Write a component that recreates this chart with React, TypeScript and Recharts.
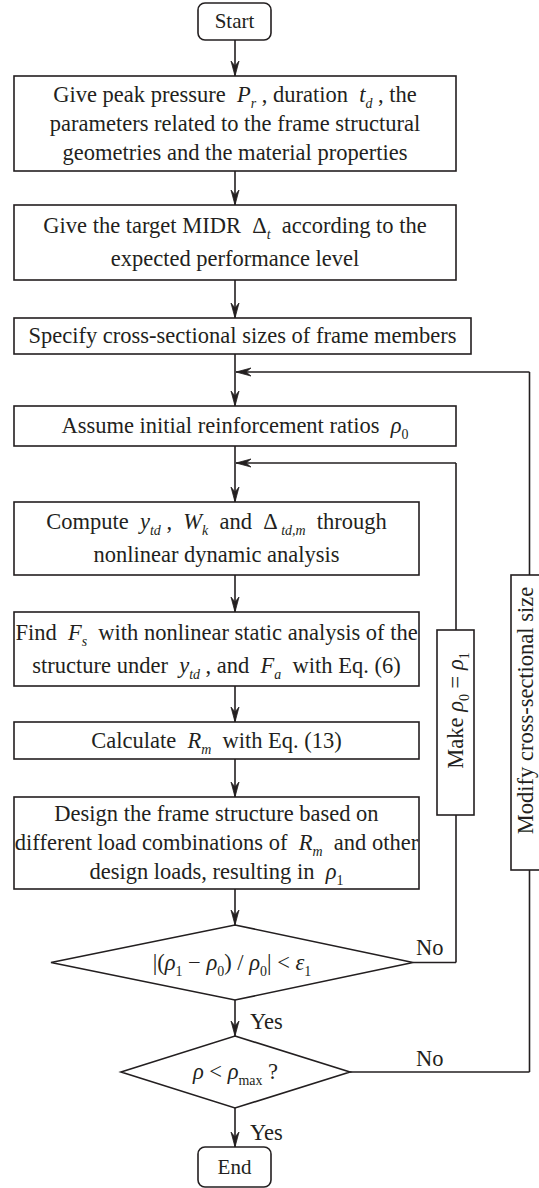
import React from 'react';
import { ComposedChart, XAxis, YAxis, Scatter, ReferenceLine } from 'recharts';

type Seg = { t: string; it?: boolean; sub?: boolean };
const T = (t: string): Seg => ({ t });
const I = (t: string): Seg => ({ t, it: true });
const S = (t: string, it = false): Seg => ({ t, sub: true, it });

// ---- texts ----
const terminalLabels: Seg[][] = [[T('Start')], [T('End')]];

const processLabels: Seg[][][] = [
  [
    [T('Give peak pressure  '), I('P'), S('r', true), T(' , duration  '), I('t'), S('d', true), T(' , the')],
    [T('parameters related to the frame structural')],
    [T('geometries and the material properties')],
  ],
  [
    [T('Give the target MIDR  Δ'), S('t', true), T('  according to the')],
    [T('expected performance level')],
  ],
  [[T('Specify cross-sectional sizes of frame members')]],
  [[T('Assume initial reinforcement ratios  '), I('ρ'), S('0')]],
  [
    [T('Compute  '), I('y'), S('td', true), T(' ,  '), I('W'), S('k', true), T('  and  Δ'), S(' td,m', true), T('  through')],
    [T('nonlinear dynamic analysis')],
  ],
  [
    [T('Find  '), I('F'), S('s', true), T('  with nonlinear static analysis of the')],
    [T('structure under  '), I('y'), S('td', true), T(' , and  '), I('F'), S('a', true), T('  with Eq. (6)')],
  ],
  [[T('Calculate  '), I('R'), S('m', true), T('  with Eq. (13)')]],
  [
    [T('Design the frame structure based on')],
    [T('different load combinations of  '), I('R'), S('m', true), T('  and other')],
    [T('design loads, resulting in  '), I('ρ'), S('1')],
  ],
];

const decisionLabels: Seg[][] = [
  [T('|('), I('ρ'), S('1'), T(' − '), I('ρ'), S('0'), T(') / '), I('ρ'), S('0'), T('| < '), I('ε'), S('1')],
  [I('ρ'), T(' < '), I('ρ'), S('max'), T(' ?')],
];

const sideLabels: Seg[][] = [
  [T('Make '), I('ρ'), S('0'), T(' = '), I('ρ'), S('1')],
  [T('Modify cross-sectional size')],
];

const branchLabels: string[] = ['No', 'No', 'Yes', 'Yes'];

// ---- layout (data units of the 539 x 1188 plot) ----
const terminalLayout = [
  { x: 234.5, y: 21.5, w: 73, h: 37 },
  { x: 234.5, y: 1167, w: 73, h: 40 },
];
const processLayout = [
  { x: 235, y: 123.5, w: 442, h: 95 },
  { x: 235, y: 242.5, w: 442, h: 75 },
  { x: 242.5, y: 336, w: 457, h: 36 },
  { x: 235, y: 426, w: 442, h: 40 },
  { x: 216.5, y: 538.5, w: 405, h: 73 },
  { x: 216.5, y: 649, w: 405, h: 74 },
  { x: 216.5, y: 740.5, w: 405, h: 37 },
  { x: 216.5, y: 843, w: 405, h: 92 },
];
const decisionLayout = [
  { x: 235, y: 962.5, l: 51, r: 413, h: 75 },
  { x: 235, y: 1072, l: 121, r: 350, h: 72 },
];
const sideLayout = [
  { x: 455.5, y: 722.5, w: 37, h: 185, off: -12, tx: 0 },
  { x: 529.5, y: 722.5, w: 37, h: 295, off: -12, tx: -4 },
];
const branchLayout = [
  { x: 416, y: 955 },
  { x: 416, y: 1066 },
  { x: 250, y: 1029 },
  { x: 250, y: 1140 },
];
const connectors = [
  [235, 40, 235, 76], [235, 171, 235, 205], [235, 280, 235, 318], [235, 354, 235, 406],
  [235, 446, 235, 502], [235, 575, 235, 612], [235, 686, 235, 722], [235, 759, 235, 797],
  [235, 889, 235, 925], [235, 1000, 235, 1036], [235, 1108, 235, 1147],
  [413, 962.5, 456, 962.5], [456, 962.5, 456, 815], [456, 630, 456, 463], [456, 463, 236, 463],
  [350, 1072, 529.5, 1072], [529.5, 1072, 529.5, 870], [529.5, 575, 529.5, 372], [529.5, 372, 236, 372],
];
const arrowHeads = [
  { x: 235, y: 76, d: 'down' }, { x: 235, y: 205, d: 'down' }, { x: 235, y: 318, d: 'down' },
  { x: 235, y: 406, d: 'down' }, { x: 235, y: 502, d: 'down' }, { x: 235, y: 612, d: 'down' },
  { x: 235, y: 722, d: 'down' }, { x: 235, y: 797, d: 'down' }, { x: 235, y: 925, d: 'down' },
  { x: 235, y: 1036, d: 'down' }, { x: 235, y: 1147, d: 'down' },
  { x: 236, y: 372, d: 'left' }, { x: 236, y: 463, d: 'left' },
];

const W = 539;
const H = 1188;
const INK = '#231f20';
const FONT = '"Liberation Serif", "Times New Roman", serif';
const FS = 22.5;
const SW = 1.6;

function RichLine({ segs, x, y, size, anchor = 'middle', transform }: any) {
  let shifted = false;
  const subDy = size * 0.25;
  const kids = segs.map((s: Seg, k: number) => {
    let dy: number | undefined;
    if (s.sub && !shifted) { dy = subDy; shifted = true; }
    else if (!s.sub && shifted) { dy = -subDy; shifted = false; }
    return (
      <tspan key={k} dy={dy} fontStyle={s.it ? 'italic' : 'normal'} fontSize={s.sub ? size * 0.62 : size}>
        {s.t}
      </tspan>
    );
  });
  return (
    <text x={x} y={y} textAnchor={anchor} fontSize={size} fill={INK}
      style={{ whiteSpace: 'pre', fontFamily: FONT }} transform={transform}>
      {kids}
    </text>
  );
}

const BoxShape = (props: any) => {
  const { cx, cy, payload } = props;
  const { w, h, lines, r, size, gap } = payload;
  const n = lines.length;
  return (
    <g>
      <rect x={cx - w / 2} y={cy - h / 2} width={w} height={h} rx={r} ry={r} fill="#fff" stroke={INK} strokeWidth={SW} />
      {lines.map((ln: Seg[], i: number) => (
        <RichLine key={i} segs={ln} x={cx} y={cy + (i - (n - 1) / 2) * gap + size * 0.33} size={size} />
      ))}
    </g>
  );
};

const DiamondShape = (props: any) => {
  const { cx, cy, payload } = props;
  const { l, r, h, lines } = payload;
  const pts = `${cx},${cy - h / 2} ${r},${cy} ${cx},${cy + h / 2} ${l},${cy}`;
  return (
    <g>
      <polygon points={pts} fill="#fff" stroke={INK} strokeWidth={SW} strokeLinejoin="miter" />
      <RichLine segs={lines[0]} x={(l + r) / 2} y={cy + FS * 0.33} size={FS} />
    </g>
  );
};

const SideShape = (props: any) => {
  const { cx, cy, payload } = props;
  const { w, h, lines, off, tx } = payload;
  const ty = cy + off;
  const txc = cx + tx;
  return (
    <g>
      <rect x={cx - w / 2} y={cy - h / 2} width={w} height={h} fill="#fff" stroke={INK} strokeWidth={SW} />
      <RichLine segs={lines[0]} x={txc} y={ty + FS * 0.33} size={FS} transform={`rotate(-90 ${txc} ${ty})`} />
    </g>
  );
};

const ArrowShape = (props: any) => {
  const { cx, cy, payload } = props;
  const rot = payload.d === 'left' ? 90 : 0;
  return (
    <path d="M0,0 L-4,-15 L0,-10 L4,-15 Z" fill={INK} stroke={INK} strokeWidth={0.8}
      strokeLinejoin="miter" transform={`translate(${cx},${cy}) rotate(${rot})`} />
  );
};

const LabelShape = (props: any) => {
  const { cx, cy, payload } = props;
  return (
    <text x={cx} y={cy} fontSize={FS} fill={INK} textAnchor="start" style={{ fontFamily: FONT }}>
      {payload.label}
    </text>
  );
};

const terminalData = terminalLayout.map((p, i) => ({ ...p, lines: [terminalLabels[i]], r: 7, size: 21, gap: 0 }));
const processData = processLayout.map((p, i) => ({
  ...p, lines: processLabels[i], r: 0, size: FS, gap: processLabels[i].length === 2 ? 33 : 29,
}));
const decisionData = decisionLayout.map((p, i) => ({ ...p, lines: [decisionLabels[i]] }));
const sideData = sideLayout.map((p, i) => ({ ...p, lines: [sideLabels[i]] }));
const branchData = branchLayout.map((p, i) => ({ ...p, label: branchLabels[i] }));

export default function App() {
  return (
    <div style={{ position: 'absolute', left: 0, top: 0, width: W, height: H, background: '#fff' }}>
      <ComposedChart width={W} height={H} margin={{ top: 0, right: 0, bottom: 0, left: 0 }}>
        <XAxis type="number" dataKey="x" domain={[0, W]} allowDataOverflow hide />
        <YAxis type="number" dataKey="y" domain={[0, H]} allowDataOverflow reversed hide />
        {connectors.map((c, i) => (
          <ReferenceLine key={i} segment={[{ x: c[0], y: c[1] }, { x: c[2], y: c[3] }]}
            stroke={INK} strokeWidth={SW} ifOverflow="visible" />
        ))}
        <Scatter data={processData} shape={BoxShape} isAnimationActive={false} />
        <Scatter data={terminalData} shape={BoxShape} isAnimationActive={false} />
        <Scatter data={decisionData} shape={DiamondShape} isAnimationActive={false} />
        <Scatter data={sideData} shape={SideShape} isAnimationActive={false} />
        <Scatter data={arrowHeads} shape={ArrowShape} isAnimationActive={false} />
        <Scatter data={branchData} shape={LabelShape} isAnimationActive={false} />
      </ComposedChart>
    </div>
  );
}
